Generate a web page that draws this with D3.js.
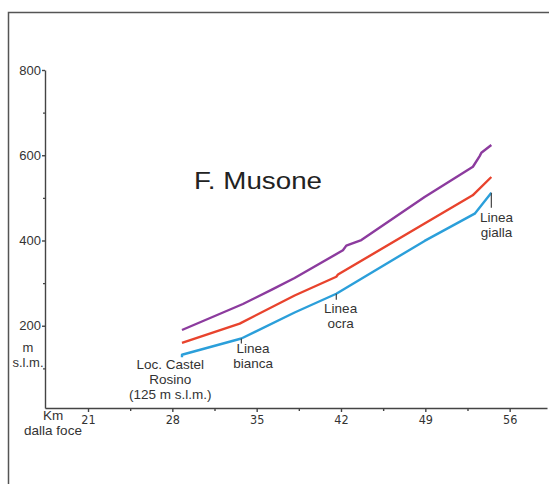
<!DOCTYPE html>
<html>
<head>
<meta charset="utf-8">
<script src="https://cdn.jsdelivr.net/npm/d3@7"></script>
<style>
  body { margin: 0; background: #fff; }
  svg { display: block; font-family: "Liberation Sans", Arial, sans-serif; }
</style>
</head>
<body>
<svg id="chart" width="549" height="484"></svg>
<script>
// km dalla foce / quota (m s.l.m.)
const kmTicks = [21, 28, 35, 42, 49, 56];
const kmMinor = [24.5, 31.5, 38.5, 45.5, 52.5];
const quotaTicks = [200, 400, 600, 800];
const quotaMinor = [100, 300, 500, 700];

const violaKm = [28.8, 33.86, 36.22, 38.15, 42.16, 42.44, 42.72, 43.69, 48.94, 52.95, 53.51, 53.65, 54.48];
const violaM  = [190, 251, 284, 312, 377, 388, 391, 401, 502, 573, 598, 606, 624];

const rossaKm = [28.8, 33.59, 38.15, 41.61, 41.75, 48.94, 52.93, 54.48];
const rossaM  = [160, 205, 271, 315, 320, 440, 506, 549];

const bluKm = [28.8, 28.8, 33.73, 38.15, 41.61, 48.94, 53.1, 54.48];
const bluM  = [126, 132, 170, 231, 275, 399, 463, 512];

const svg = d3.select('#chart');

// cornice
svg.append('rect')
  .attr('x', 8.5).attr('y', 12.5)
  .attr('width', 560).attr('height', 500)
  .attr('fill', 'none')
  .attr('stroke', '#555')
  .attr('stroke-width', 1.5);

const x = d3.scaleLinear().domain([17.43, 59.1]).range([45, 547]);
const y = d3.scaleLinear().domain([7, 800]).range([408, 70]);

const xAxis = svg.append('g')
  .attr('transform', `translate(0,${y(7)})`)
  .call(d3.axisBottom(x).tickValues(kmTicks).tickSize(4).tickSizeOuter(0).tickPadding(3));
xAxis.append('g')
  .call(d3.axisBottom(x).tickValues(kmMinor).tickSize(3).tickFormat(''))
  .select('.domain').remove();
xAxis.selectAll('text').attr('font-size', 12.5).attr('fill', '#333').attr('font-family', 'DejaVu Sans Condensed, Liberation Sans, sans-serif');

const yAxis = svg.append('g')
  .attr('transform', `translate(${x(17.43)},0)`)
  .call(d3.axisLeft(y).tickValues(quotaTicks).tickSize(3).tickSizeOuter(0).tickPadding(1));
yAxis.append('g')
  .call(d3.axisLeft(y).tickValues(quotaMinor).tickSize(2).tickFormat(''))
  .select('.domain').remove();
yAxis.selectAll('text').attr('font-size', 13).attr('fill', '#333').attr('font-family', 'Liberation Sans, Arial, sans-serif');

svg.selectAll('.domain, .tick line').attr('stroke', '#444').attr('stroke-width', 1.4);

// profili
const line = d3.line().x(d => x(d[0])).y(d => y(d[1]));
const series = [
  { km: violaKm, m: violaM, color: '#8c3b9e' },
  { km: rossaKm, m: rossaM, color: '#e8432d' },
  { km: bluKm, m: bluM, color: '#2b9fda' }
];
series.forEach(s => {
  svg.append('path')
    .datum(s.km.map((k, i) => [k, s.m[i]]))
    .attr('d', line)
    .attr('fill', 'none')
    .attr('stroke', s.color)
    .attr('stroke-width', 2.4)
    .attr('stroke-linejoin', 'round');
});

// titolo
svg.append('text')
  .attr('x', 194).attr('y', 188.5)
  .attr('font-size', 23.5)
  .attr('fill', '#222')
  .attr('textLength', 128)
  .attr('lengthAdjust', 'spacingAndGlyphs')
  .text('F. Musone');

// etichette assi
const lab = (tx, ty, lines, size) => {
  const t = svg.append('text')
    .attr('text-anchor', 'middle')
    .attr('font-size', size || 13.5)
    .attr('fill', '#333');
  lines.forEach((s, i) => {
    t.append('tspan').attr('x', tx).attr('y', ty + i * 15).text(s);
  });
};
lab(28, 352, ['m', 's.l.m.'], 13);
lab(53, 420, ['Km'], 13.5);
lab(53, 435, ['dalla foce'], 13.5);

// annotazioni
const tick = (km, m, len) => {
  svg.append('line')
    .attr('x1', x(km)).attr('x2', x(km))
    .attr('y1', y(m)).attr('y2', y(m) + len)
    .attr('stroke', '#444').attr('stroke-width', 1.2);
};
lab(x(27.83), 369, ['Loc. Castel', 'Rosino', '(125 m s.l.m.)']);
tick(33.73, 170, 5);
lab(x(34.7), 353, ['Linea', 'bianca']);
tick(41.61, 275, 6);
lab(x(41.97), 312.5, ['Linea', 'ocra']);
tick(54.48, 512, 15);
lab(x(54.9), 221.5, ['Linea', 'gialla']);
</script>
</body>
</html>
